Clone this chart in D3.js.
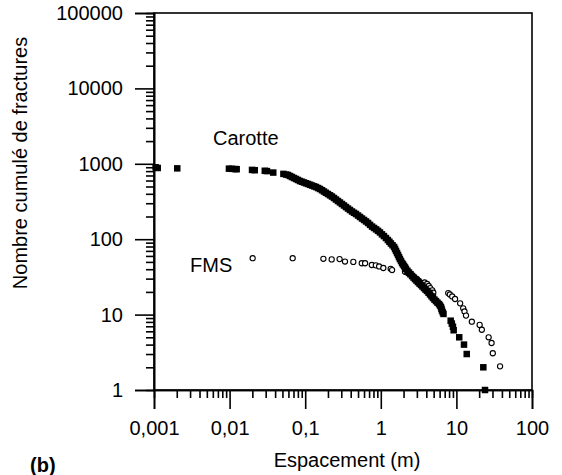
<!DOCTYPE html>
<html>
<head>
<meta charset="utf-8">
<script src="https://cdn.jsdelivr.net/npm/d3@7"></script>
<style>
  body { margin: 0; background: #fff; }
  text { font-family: "Liberation Sans", Arial, Helvetica, sans-serif; fill: #000; }
</style>
</head>
<body>
<div id="chart"></div>
<script>
// Axis ticks
const xTicks = [0.001, 0.01, 0.1, 1, 10, 100];
const xTickLabels = ["0,001", "0,01", "0,1", "1", "10", "100"];
const yTicks = [1, 10, 100, 1000, 10000, 100000];
const yTickLabels = ["1", "10", "100", "1000", "10000", "100000"];

// Carotte (filled squares) - spacing (m) / cumulative number
const carotteX = [0.00105, 0.00112, 0.00203, 0.0098, 0.0107, 0.0118, 0.0124, 0.0198, 0.0215, 0.0292, 0.0312, 0.0378, 0.0515, 0.056,
  0.0592, 0.0629, 0.0668, 0.0710, 0.0755, 0.0802, 0.0853, 0.0907, 0.0964, 0.1025, 0.109, 0.116, 0.123, 0.131, 0.139, 0.148,
  0.157, 0.167, 0.177, 0.188, 0.200, 0.213, 0.226, 0.240, 0.255, 0.271, 0.288, 0.306, 0.326, 0.346, 0.368, 0.391,
  0.416, 0.442, 0.470, 0.500, 0.531, 0.564, 0.600, 0.638, 0.678, 0.721, 0.766, 0.814, 0.866, 0.919, 0.975, 1.036,
  1.10, 1.17, 1.24, 1.30, 1.36, 1.43, 1.50, 1.545, 1.59, 1.64, 1.69, 1.74, 1.79, 1.85, 1.91, 1.97, 2.03, 2.09, 2.15, 2.25,
  2.36, 2.47, 2.59, 2.71, 2.83, 2.96, 3.10, 3.25, 3.40, 3.56, 3.73, 3.90, 4.08, 4.28, 4.48, 4.69, 4.90, 5.13, 5.37, 5.62,
  5.89, 6.07, 6.25, 6.35, 6.45, 6.60, 6.75,
  8.4, 8.7, 9.0, 9.2, 10.9, 12.6, 13.7, 22.7, 23.9];
const carotteY = [900, 880, 870, 862, 858, 852, 848, 830, 822, 808, 800, 765, 735, 720,
  710, 689, 668, 648, 629, 610, 591, 578, 565, 552, 540, 527, 515, 503, 492, 477,
  463, 446, 429, 413, 397, 382, 368, 352, 336, 321, 307, 293, 280, 267, 255, 244,
  233, 224, 216, 206, 197, 188, 180, 172, 164, 155, 147, 141, 135, 129, 123, 116,
  110, 103.6, 97.5, 92.5, 87.7, 83.1, 78.8, 74.2, 69.8, 65.6, 61.7, 58.0, 54.6, 51.4, 48.3, 46.2, 44.1, 42.2, 40.3, 38.1,
  36.1, 34.3, 32.5, 31.0, 29.6, 28.3, 27.0, 25.8, 24.7, 23.6, 22.5, 21.5, 20.6, 19.5, 18.5, 17.5, 16.6, 15.8, 15.1, 14.4,
  13.8, 13.2, 12.6, 11.9, 11.3, 10.7, 10.2,
  8.3, 7.6, 6.9, 6.2, 5.0, 4.0, 3.0, 2.0, 1.0];

// FMS (open circles)
const fmsX = [0.0202, 0.0683, 0.174, 0.224, 0.285, 0.336, 0.433, 0.56, 0.62, 0.76, 0.86, 0.95, 1.08, 1.35, 1.41,
  2.09, 2.32, 2.56, 2.75, 3.0, 3.2, 3.45, 3.8, 4.1, 4.3, 4.5, 4.8, 4.95,
  7.8, 8.2, 8.8, 9.6, 11.2, 12.3, 12.8, 13.4, 16.0, 20.3, 21.7, 26.7, 29.2, 30.3, 37.8];
const fmsY = [56, 56, 55, 54, 54.5, 50.5, 50, 48, 48, 45.5, 45, 43.5, 41.5, 40.5, 39,
  37, 35, 33.4, 31.5, 29.8, 28, 26, 26.7, 25.5, 24, 22.5, 21, 19.5,
  19.3, 18.5, 17.4, 16.1, 14.1, 12.1, 11.0, 9.7, 8.05, 7.3, 6.3, 5.0, 4.2, 3.07, 2.06];

const carotte = carotteX.map((x, i) => ({ x: x, y: carotteY[i] }));
const fms = fmsX.map((x, i) => ({ x: x, y: fmsY[i] }));

// Dimensions
const totalWidth = 562, totalHeight = 475;
const margin = { top: 13, right: 30, bottom: 85, left: 154 };
const width = totalWidth - margin.left - margin.right;
const height = totalHeight - margin.top - margin.bottom;

const svg = d3.select("#chart")
  .append("svg")
  .attr("width", totalWidth)
  .attr("height", totalHeight);

const g = svg.append("g").attr("transform", `translate(${margin.left},${margin.top})`);

// Scales
const xScale = d3.scaleLog().domain([0.001, 100]).range([0, width]);
const yScale = d3.scaleLog().domain([1, 100000]).range([height, 0]);

const isDecade = v => Math.abs(Math.log10(v) - Math.round(Math.log10(v))) < 1e-9;
const xMinor = xScale.ticks().filter(v => !isDecade(v));
const yMinor = yScale.ticks().filter(v => !isDecade(v));

// Frame (top and right)
g.append("rect")
  .attr("x", 0).attr("y", 0)
  .attr("width", width).attr("height", height)
  .style("fill", "none")
  .style("stroke", "#000")
  .style("stroke-width", 1.6);

// Minor ticks
g.append("g")
  .attr("class", "axis")
  .attr("transform", `translate(0,${height})`)
  .call(d3.axisBottom(xScale).tickValues(xMinor).tickSize(8).tickFormat(""));

g.append("g")
  .attr("class", "axis")
  .call(d3.axisLeft(yScale).tickValues(yMinor).tickSize(8).tickFormat(""));

// Major ticks with labels
g.append("g")
  .attr("class", "axis")
  .attr("transform", `translate(0,${height})`)
  .call(d3.axisBottom(xScale).tickValues(xTicks).tickSize(19).tickPadding(12)
    .tickFormat((d, i) => xTickLabels[i]));

g.append("g")
  .attr("class", "axis")
  .call(d3.axisLeft(yScale).tickValues(yTicks).tickSize(19).tickPadding(12)
    .tickFormat((d, i) => yTickLabels[i]));

g.selectAll(".axis path").style("stroke", "#000").style("stroke-width", 1.6);
g.selectAll(".axis line").style("stroke", "#000").style("stroke-width", 1.6);
g.selectAll(".axis text")
  .style("font-size", "20px")
  .style("font-family", "'Liberation Sans', Arial, sans-serif")
  .style("fill", "#000");

// Axis titles
svg.append("text")
  .attr("transform", "rotate(-90)")
  .attr("x", -163)
  .attr("y", 27)
  .style("text-anchor", "middle")
  .style("font-size", "20px")
  .text("Nombre cumulé de fractures");

svg.append("text")
  .attr("x", 347)
  .attr("y", 467)
  .style("text-anchor", "middle")
  .style("font-size", "20px")
  .text("Espacement (m)");

svg.append("text")
  .attr("x", 30)
  .attr("y", 472)
  .style("font-size", "20px")
  .style("font-weight", "bold")
  .text("(b)");

// Series labels
svg.append("text")
  .attr("x", 213)
  .attr("y", 145)
  .style("font-size", "20px")
  .text("Carotte");

svg.append("text")
  .attr("x", 190)
  .attr("y", 272)
  .style("font-size", "20px")
  .text("FMS");

// FMS open circles
g.selectAll(".fms-dot")
  .data(fms)
  .enter()
  .append("circle")
  .attr("class", "fms-dot")
  .attr("cx", d => xScale(d.x))
  .attr("cy", d => yScale(d.y))
  .attr("r", 2.6)
  .style("fill", "#fff")
  .style("stroke", "#000")
  .style("stroke-width", 1.1);

// Carotte filled squares
const sq = 6.5;
g.selectAll(".carotte-dot")
  .data(carotte)
  .enter()
  .append("rect")
  .attr("class", "carotte-dot")
  .attr("x", d => xScale(d.x) - sq / 2)
  .attr("y", d => yScale(d.y) - sq / 2)
  .attr("width", sq)
  .attr("height", sq)
  .style("fill", "#000");
</script>
</body>
</html>
